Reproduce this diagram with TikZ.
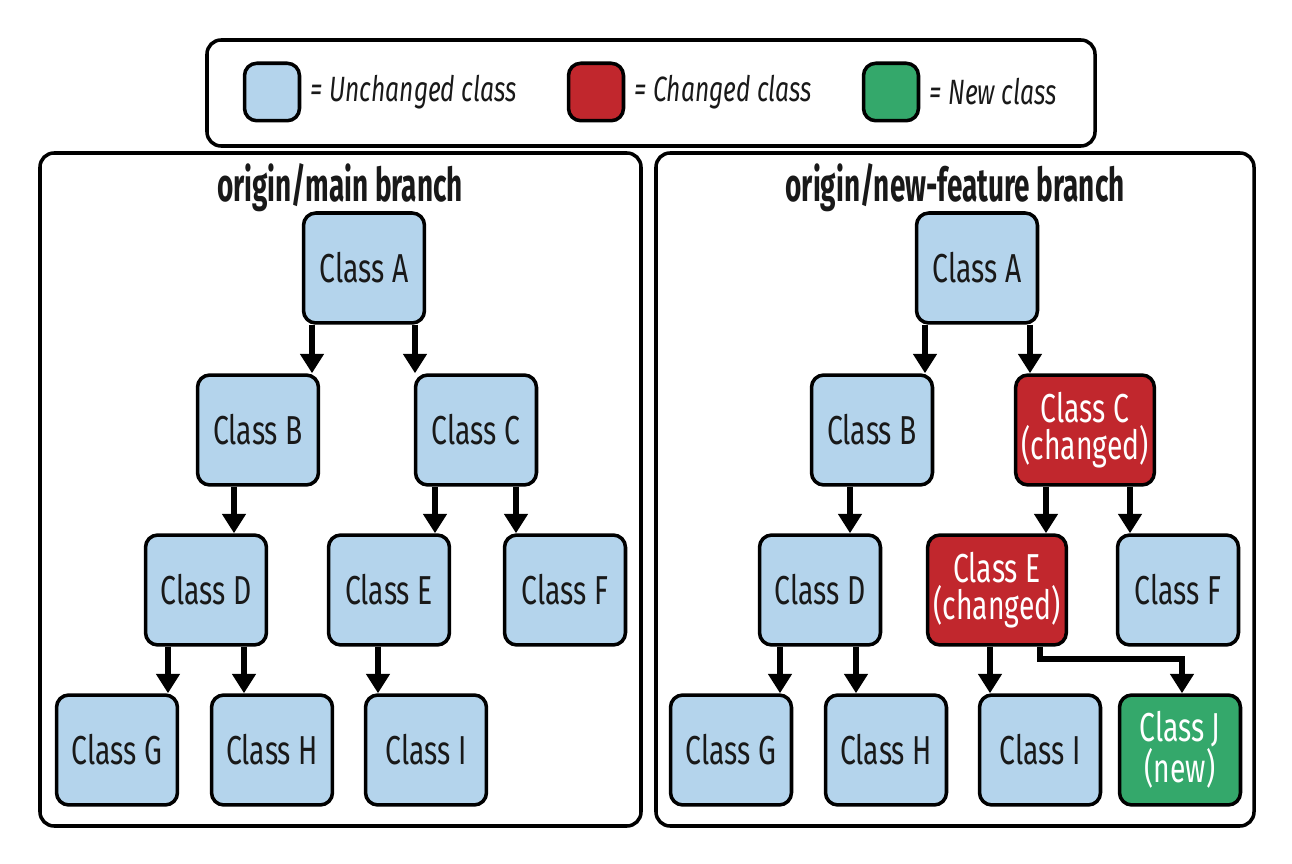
\documentclass[tikz,border=0pt]{standalone}
\usepackage{fontspec}
\setmainfont{Fira Sans}[FakeStretch=0.7]
\newfontfamily\titlefont{Fira Sans}[FakeStretch=0.6]
\usetikzlibrary{arrows.meta}
\definecolor{unchanged}{RGB}{180,212,236}
\definecolor{changed}{RGB}{193,39,45}
\definecolor{newcls}{RGB}{52,168,107}
\tikzset{
  cls/.style={draw, line width=2pt, rounded corners=7pt, fill=unchanged,
    minimum width=2.42cm, minimum height=2.2cm, align=center,
    font=\fontsize{23}{21}\selectfont, text=black!90},
  chg/.style={cls, fill=changed, text=white},
  newc/.style={cls, fill=newcls, text=white},
  swatch/.style={cls, minimum width=1.1cm, minimum height=1.15cm},
  keytext/.style={anchor=west, font=\fontsize{20}{24}\selectfont\itshape, text=black!90},
  panel/.style={draw, line width=2pt, rounded corners=8pt},
  title/.style={font=\titlefont\fontsize{26.5}{30}\selectfont\bfseries, text=black!90},
  arr/.style={line width=3.4pt, -{Triangle[width=13pt,length=11pt]}},
}
\begin{document}
\begin{tikzpicture}[x=0.02cm, y=-0.02cm]
		\useasboundingbox (0,0) rectangle (1292,864);
		
		%%%%% legend %%%%%
		\draw[panel] (207,40) rectangle (1095,146);
		\node[swatch] (kU) at (272,92) {};
		\node[keytext] at ([xshift=2pt]kU.east) {= Unchanged class};
		\node[swatch, fill=changed] (kC) at (596,92) {};
		\node[keytext] at ([xshift=2pt]kC.east) {= Changed class};
		\node[swatch, fill=newcls] (kN) at (891,92) {};
		\node[keytext] at ([xshift=2pt]kN.east) {= New class};
		
		%%%%% origin/main %%%%%
		\draw[panel] (40,153) rectangle (641,826);
		\node[title] (tmain) at (340,188) {origin/main branch};
		
		\node[cls] (lA) at (364,268) {Class A};
		\node[cls] (lB) at (258,430) {Class B};
		\node[cls] (lC) at (476,430) {Class C};
		\node[cls] (lD) at (206,590) {Class D};
		\node[cls] (lE) at (389,590) {Class E};
		\node[cls] (lF) at (565,590) {Class F};
		\node[cls] (lG) at (117,750) {Class G};
		\node[cls] (lH) at (272,750) {Class H};
		\node[cls] (lI) at (426,750) {Class I};
		
		\draw[arr] (312,0 |- lA.south) -- (312,0 |- lB.north);
		\draw[arr] (415,0 |- lA.south) -- (415,0 |- lC.north);
		\draw[arr] (234,0 |- lB.south) -- (234,0 |- lD.north);
		\draw[arr] (435,0 |- lC.south) -- (435,0 |- lE.north);
		\draw[arr] (516,0 |- lC.south) -- (516,0 |- lF.north);
		\draw[arr] (168,0 |- lD.south) -- (168,0 |- lG.north);
		\draw[arr] (244,0 |- lD.south) -- (244,0 |- lH.north);
		\draw[arr] (378,0 |- lE.south) -- (378,0 |- lI.north);
		
		%%%%% origin/new-feature %%%%%
		\draw[panel] (656,153) rectangle (1254,826);
		\node[title] (tnew) at (955,188) {origin/new-feature branch};
		
		\node[cls] (rA) at (977,268) {Class A};
		\node[cls] (rB) at (872,430) {Class B};
		\node[chg] (rC) at (1085,430) {Class C\\(changed)};
		\node[cls] (rD) at (820,590) {Class D};
		\node[chg] (rE) at (997,590) {Class E\\(changed)};
		\node[cls] (rF) at (1178,590) {Class F};
		\node[cls] (rG) at (731,750) {Class G};
		\node[cls] (rH) at (886,750) {Class H};
		\node[cls] (rI) at (1040,750) {Class I};
		\node[newc] (rJ) at (1180,750) {Class J\\(new)};
		
		\draw[arr] (925,0 |- rA.south) -- (925,0 |- rB.north);
		\draw[arr] (1030,0 |- rA.south) -- (1030,0 |- rC.north);
		\draw[arr] (850,0 |- rB.south) -- (850,0 |- rD.north);
		\draw[arr] (1046,0 |- rC.south) -- (1046,0 |- rE.north);
		\draw[arr] (1130,0 |- rC.south) -- (1130,0 |- rF.north);
		\draw[arr] (780,0 |- rD.south) -- (780,0 |- rG.north);
		\draw[arr] (856,0 |- rD.south) -- (856,0 |- rH.north);
		\draw[arr] (990,0 |- rE.south) -- (990,0 |- rI.north);
		\draw[arr] (1040,0 |- rE.south) |- (1182,659) -- (1182,0 |- rJ.north);
		
		%%%%% END %%%%%
\end{tikzpicture}
\end{document}
